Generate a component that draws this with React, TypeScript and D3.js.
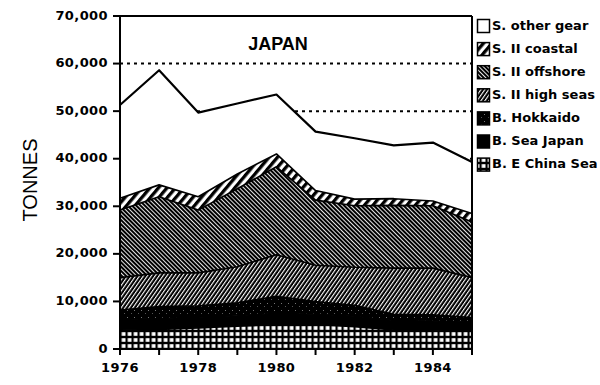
import React from "react";
import * as d3 from "d3";

const years = [1976, 1977, 1978, 1979, 1980, 1981, 1982, 1983, 1984, 1985];
const eChinaSea = [4000, 4100, 4450, 4800, 5150, 5150, 4700, 4000, 4000, 3800];
const seaJapan = [2200, 2300, 2250, 2200, 2350, 2150, 2200, 2000, 1900, 1800];
const hokkaido = [2000, 2500, 2400, 2700, 3600, 2700, 2300, 1300, 1300, 1000];
const highSeas = [6800, 7100, 6900, 7600, 8700, 7600, 8000, 9700, 9800, 8400];
const offshore = [14200, 16000, 13200, 16400, 18500, 13700, 12900, 13200, 13100, 11700];
const coastal = [2500, 2500, 2800, 3100, 2700, 2000, 1400, 1400, 1000, 1800];
const otherGear = [19600, 24100, 17700, 14800, 12500, 12400, 12800, 11200, 12300, 10800];

// bottom to top
const seriesKeys = ["eChina", "seaJapan", "hokkaido", "highSeas", "offshore", "coastal", "other"];
const seriesLabels = [
  "B. E China Sea",
  "B. Sea Japan",
  "B. Hokkaido",
  "S. II high seas",
  "S. II offshore",
  "S. II coastal",
  "S. other gear",
];
const seriesValues = [eChinaSea, seaJapan, hokkaido, highSeas, offshore, coastal, otherGear];
const seriesFills = [
  "url(#pEChina)",
  "#000",
  "url(#pHokkaido)",
  "url(#pHighSeas)",
  "url(#pOffshore)",
  "url(#pCoastal)",
  "#fff",
];

const yTicks = [0, 10000, 20000, 30000, 40000, 50000, 60000, 70000];
const xLabelYears = [1976, 1978, 1980, 1982, 1984];

const tickFont = "'DejaVu Sans', sans-serif";

const App: React.FC = () => {
  const x = d3.scaleLinear().domain([1976, 1985]).range([120, 472]);
  const y = d3.scaleLinear().domain([0, 70000]).range([349, 16]);

  const table = years.map((yr, i) => {
    const row: any = { year: yr };
    seriesKeys.forEach((k, j) => (row[k] = seriesValues[j][i]));
    return row;
  });
  const stacked = d3.stack<any>().keys(seriesKeys)(table);

  const area = d3
    .area<any>()
    .x((d) => x(d.data.year))
    .y0((d) => y(d[0]))
    .y1((d) => y(d[1]));
  const topLine = d3
    .line<any>()
    .x((d) => x(d.data.year))
    .y((d) => y(d[1]));

  const legendOrder = [...seriesKeys.keys()].reverse();

  return (
    <svg
      width={600}
      height={385}
      style={{ position: "absolute", left: 0, top: 0, background: "#fff" }}
    >
      <defs>
        <pattern id="pCoastal" patternUnits="userSpaceOnUse" width="6.5" height="6.5" patternTransform="rotate(40)">
          <rect width="6.5" height="6.5" fill="#fff" />
          <rect width="3.3" height="6.5" fill="#000" />
        </pattern>
        <pattern id="pOffshore" patternUnits="userSpaceOnUse" width="3" height="8" patternTransform="rotate(-45)">
          <rect width="3" height="8" fill="#000" />
          <rect width="0.9" height="8" fill="#fff" />
        </pattern>
        <pattern id="pHighSeas" patternUnits="userSpaceOnUse" width="3.2" height="8" patternTransform="rotate(35)">
          <rect width="3.2" height="8" fill="#000" />
          <rect width="1.1" height="8" fill="#fff" />
        </pattern>
        <pattern id="pHokkaido" patternUnits="userSpaceOnUse" width="7" height="7">
          <rect width="7" height="7" fill="#000" />
          <rect x="1" y="2" width="1" height="1" fill="#777" />
          <rect x="5" y="5" width="1" height="1" fill="#555" />
        </pattern>
        <pattern id="pEChina" patternUnits="userSpaceOnUse" x="0.5" y="1" width="6" height="6">
          <rect width="6" height="6" fill="#000" />
          <rect x="1.2" y="1.2" width="3.8" height="3.6" fill="#fff" />
        </pattern>
      </defs>

      {/* dotted gridlines, hidden under the areas */}
      {yTicks.slice(1, -1).map((t) => (
        <line
          key={t}
          x1={120}
          x2={472}
          y1={y(t)}
          y2={y(t)}
          stroke="#000"
          strokeWidth={2}
          strokeDasharray="3,4"
        />
      ))}

      {stacked.map((s, i) => (
        <path key={s.key} d={area(s) || ""} fill={seriesFills[i]} />
      ))}
      {stacked.map((s, i) => (
        <path
          key={"l" + s.key}
          d={topLine(s) || ""}
          fill="none"
          stroke="#000"
          strokeWidth={i === stacked.length - 1 ? 2.2 : 1.6}
          strokeLinejoin="round"
        />
      ))}

      {/* frame and axes */}
      <line x1={120} x2={120} y1={16} y2={355} stroke="#000" strokeWidth={2} />
      <line x1={472} x2={472} y1={16} y2={355} stroke="#000" strokeWidth={2} />
      <line x1={120} x2={472} y1={16} y2={16} stroke="#000" strokeWidth={2} />
      <line x1={120} x2={472} y1={349} y2={349} stroke="#000" strokeWidth={2} />

      {yTicks.map((t) => (
        <g key={t}>
          <line x1={113} x2={120} y1={y(t)} y2={y(t)} stroke="#000" strokeWidth={2} />
          <text
            x={108}
            y={y(t)}
            textAnchor="end"
            dominantBaseline="middle"
            fontFamily={tickFont}
            fontWeight="bold"
            fontSize={13}
            letterSpacing={0.4}
          >
            {d3.format(",")(t)}
          </text>
        </g>
      ))}

      {years.map((yr) => (
        <line key={yr} x1={x(yr)} x2={x(yr)} y1={349} y2={355} stroke="#000" strokeWidth={2} />
      ))}
      {xLabelYears.map((yr) => (
        <text
          key={yr}
          x={x(yr)}
          y={372}
          textAnchor="middle"
          fontFamily={tickFont}
          fontWeight="bold"
          fontSize={13}
          letterSpacing={0.4}
        >
          {yr}
        </text>
      ))}

      <text
        transform="translate(37,180) rotate(-90)"
        textAnchor="middle"
        fontFamily="'Liberation Sans', Arial, sans-serif"
        fontSize={20}
      >
        TONNES
      </text>

      <text
        x={278}
        y={50}
        textAnchor="middle"
        fontFamily="'Liberation Sans', Arial, sans-serif"
        fontWeight="bold"
        fontSize={18}
      >
        JAPAN
      </text>

      {legendOrder.map((idx, row) => {
        const cy = 26 + row * 23.1;
        return (
          <g key={seriesKeys[idx]}>
            <rect
              x={477.5}
              y={cy - 6.5}
              width={12}
              height={13}
              fill={seriesFills[idx]}
              stroke="#000"
              strokeWidth={1.5}
            />
            <text
              x={492}
              y={cy}
              dominantBaseline="middle"
              fontFamily={tickFont}
              fontWeight="bold"
              fontSize={13}
            >
              {seriesLabels[idx]}
            </text>
          </g>
        );
      })}
    </svg>
  );
};

export default App;
